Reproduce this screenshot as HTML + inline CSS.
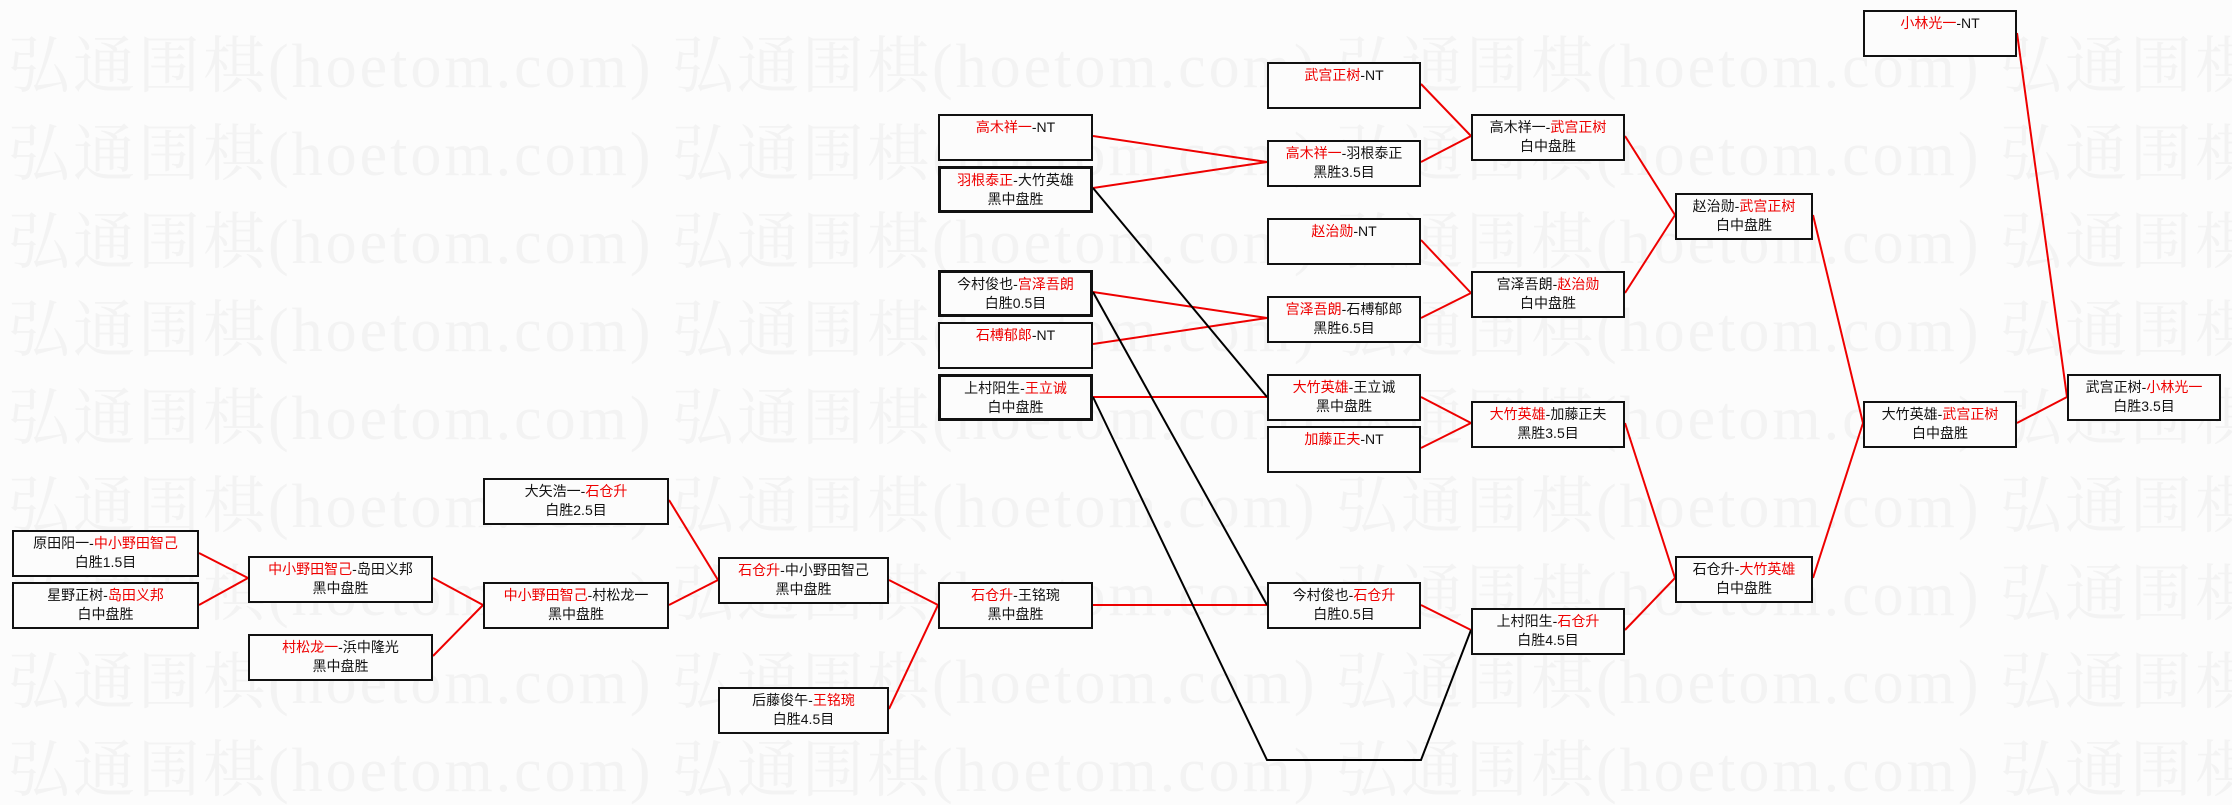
<!DOCTYPE html>
<html><head><meta charset="utf-8"><style>
html,body{margin:0;padding:0}
body{width:2232px;height:793px;background:#fcfcfc;position:relative;overflow:hidden;font-family:"Liberation Serif","Noto Serif CJK SC",serif}
.wm{position:absolute;left:8px;font-size:62px;color:#f3f3f3;white-space:nowrap;font-family:"Liberation Serif","Noto Serif CJK SC",serif;letter-spacing:3px;line-height:62px}
.b{position:absolute;height:41px;border:2px solid #111;background:#fcfcfc;font-size:14px;line-height:19px;text-align:center;color:#111;padding-top:2px;box-sizing:content-box;font-family:"Liberation Sans","Noto Sans CJK SC",sans-serif;white-space:nowrap}
.t{border-width:3px;height:39px}
.r{color:#e00}
svg{position:absolute;left:0;top:0}
</style></head><body>
<div class="wm" style="top:36px">弘通围棋(hoetom.com) 弘通围棋(hoetom.com) 弘通围棋(hoetom.com) 弘通围棋(hoetom.com)</div>
<div class="wm" style="top:124px">弘通围棋(hoetom.com) 弘通围棋(hoetom.com) 弘通围棋(hoetom.com) 弘通围棋(hoetom.com)</div>
<div class="wm" style="top:212px">弘通围棋(hoetom.com) 弘通围棋(hoetom.com) 弘通围棋(hoetom.com) 弘通围棋(hoetom.com)</div>
<div class="wm" style="top:300px">弘通围棋(hoetom.com) 弘通围棋(hoetom.com) 弘通围棋(hoetom.com) 弘通围棋(hoetom.com)</div>
<div class="wm" style="top:388px">弘通围棋(hoetom.com) 弘通围棋(hoetom.com) 弘通围棋(hoetom.com) 弘通围棋(hoetom.com)</div>
<div class="wm" style="top:476px">弘通围棋(hoetom.com) 弘通围棋(hoetom.com) 弘通围棋(hoetom.com) 弘通围棋(hoetom.com)</div>
<div class="wm" style="top:564px">弘通围棋(hoetom.com) 弘通围棋(hoetom.com) 弘通围棋(hoetom.com) 弘通围棋(hoetom.com)</div>
<div class="wm" style="top:652px">弘通围棋(hoetom.com) 弘通围棋(hoetom.com) 弘通围棋(hoetom.com) 弘通围棋(hoetom.com)</div>
<div class="wm" style="top:740px">弘通围棋(hoetom.com) 弘通围棋(hoetom.com) 弘通围棋(hoetom.com) 弘通围棋(hoetom.com)</div>

<svg width="2232" height="793">
<g stroke="#e00" stroke-width="2" fill="none">
<line x1="199" y1="553" x2="248" y2="578"/>
<line x1="199" y1="605" x2="248" y2="578"/>
<line x1="433" y1="578" x2="483" y2="605"/>
<line x1="433" y1="656" x2="483" y2="605"/>
<line x1="669" y1="500" x2="718" y2="580"/>
<line x1="669" y1="605" x2="718" y2="580"/>
<line x1="889" y1="580" x2="938" y2="605"/>
<line x1="889" y1="709" x2="938" y2="605"/>
<line x1="1093" y1="605" x2="1267" y2="605"/>
<line x1="1093" y1="136" x2="1267" y2="162"/>
<line x1="1093" y1="188" x2="1267" y2="162"/>
<line x1="1093" y1="292" x2="1267" y2="318"/>
<line x1="1093" y1="344" x2="1267" y2="318"/>
<line x1="1093" y1="397" x2="1267" y2="397"/>
<line x1="1421" y1="84" x2="1471" y2="136"/>
<line x1="1421" y1="162" x2="1471" y2="136"/>
<line x1="1421" y1="240" x2="1471" y2="293"/>
<line x1="1421" y1="318" x2="1471" y2="293"/>
<line x1="1421" y1="397" x2="1471" y2="423"/>
<line x1="1421" y1="448" x2="1471" y2="423"/>
<line x1="1421" y1="605" x2="1471" y2="630"/>
<line x1="1625" y1="136" x2="1675" y2="215"/>
<line x1="1625" y1="293" x2="1675" y2="215"/>
<line x1="1625" y1="423" x2="1675" y2="578"/>
<line x1="1625" y1="630" x2="1675" y2="578"/>
<line x1="1813" y1="215" x2="1863" y2="423"/>
<line x1="1813" y1="578" x2="1863" y2="423"/>
<line x1="2017" y1="423" x2="2067" y2="397"/>
<line x1="2017" y1="33" x2="2067" y2="397"/>
</g>
<g stroke="#000" stroke-width="2" fill="none">
<line x1="1093" y1="188" x2="1267" y2="397"/>
<line x1="1093" y1="292" x2="1267" y2="605"/>
<polyline points="1093,397 1267,760 1421,760 1471,630"/>
</g>
</svg>

<div class="b" style="left:12px;top:530px;width:183px">原田阳一-<span class="r">中小野田智己</span><br>白胜1.5目</div>
<div class="b" style="left:12px;top:582px;width:183px">星野正树-<span class="r">岛田义邦</span><br>白中盘胜</div>
<div class="b" style="left:248px;top:556px;width:181px"><span class="r">中小野田智己</span>-岛田义邦<br>黑中盘胜</div>
<div class="b" style="left:248px;top:634px;width:181px"><span class="r">村松龙一</span>-浜中隆光<br>黑中盘胜</div>
<div class="b" style="left:483px;top:478px;width:182px">大矢浩一-<span class="r">石仓升</span><br>白胜2.5目</div>
<div class="b" style="left:483px;top:582px;width:182px"><span class="r">中小野田智己</span>-村松龙一<br>黑中盘胜</div>
<div class="b" style="left:718px;top:557px;width:167px"><span class="r">石仓升</span>-中小野田智己<br>黑中盘胜</div>
<div class="b" style="left:718px;top:687px;width:167px">后藤俊午-<span class="r">王铭琬</span><br>白胜4.5目</div>
<div class="b" style="left:938px;top:582px;width:151px"><span class="r">石仓升</span>-王铭琬<br>黑中盘胜</div>
<div class="b" style="left:938px;top:114px;width:151px"><span class="r">高木祥一</span>-NT</div>
<div class="b t" style="left:938px;top:166px;width:149px"><span class="r">羽根泰正</span>-大竹英雄<br>黑中盘胜</div>
<div class="b t" style="left:938px;top:270px;width:149px">今村俊也-<span class="r">宫泽吾朗</span><br>白胜0.5目</div>
<div class="b" style="left:938px;top:322px;width:151px"><span class="r">石榑郁郎</span>-NT</div>
<div class="b t" style="left:938px;top:374px;width:149px">上村阳生-<span class="r">王立诚</span><br>白中盘胜</div>
<div class="b" style="left:1267px;top:62px;width:150px"><span class="r">武宫正树</span>-NT</div>
<div class="b" style="left:1267px;top:140px;width:150px"><span class="r">高木祥一</span>-羽根泰正<br>黑胜3.5目</div>
<div class="b" style="left:1267px;top:218px;width:150px"><span class="r">赵治勋</span>-NT</div>
<div class="b" style="left:1267px;top:296px;width:150px"><span class="r">宫泽吾朗</span>-石榑郁郎<br>黑胜6.5目</div>
<div class="b" style="left:1267px;top:374px;width:150px"><span class="r">大竹英雄</span>-王立诚<br>黑中盘胜</div>
<div class="b" style="left:1267px;top:426px;width:150px"><span class="r">加藤正夫</span>-NT</div>
<div class="b" style="left:1267px;top:582px;width:150px">今村俊也-<span class="r">石仓升</span><br>白胜0.5目</div>
<div class="b" style="left:1471px;top:114px;width:150px">高木祥一-<span class="r">武宫正树</span><br>白中盘胜</div>
<div class="b" style="left:1471px;top:271px;width:150px">宫泽吾朗-<span class="r">赵治勋</span><br>白中盘胜</div>
<div class="b" style="left:1471px;top:401px;width:150px"><span class="r">大竹英雄</span>-加藤正夫<br>黑胜3.5目</div>
<div class="b" style="left:1471px;top:608px;width:150px">上村阳生-<span class="r">石仓升</span><br>白胜4.5目</div>
<div class="b" style="left:1675px;top:193px;width:134px">赵治勋-<span class="r">武宫正树</span><br>白中盘胜</div>
<div class="b" style="left:1675px;top:556px;width:134px">石仓升-<span class="r">大竹英雄</span><br>白中盘胜</div>
<div class="b" style="left:1863px;top:401px;width:150px">大竹英雄-<span class="r">武宫正树</span><br>白中盘胜</div>
<div class="b" style="left:2067px;top:374px;width:150px">武宫正树-<span class="r">小林光一</span><br>白胜3.5目</div>
<div class="b" style="left:1863px;top:10px;width:150px"><span class="r">小林光一</span>-NT</div>
</body></html>
